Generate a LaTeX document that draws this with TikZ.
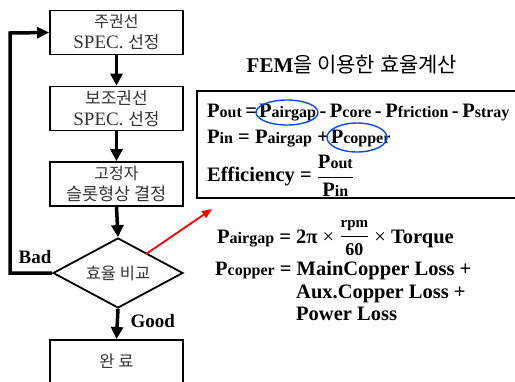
\documentclass[tikz,border=0pt]{standalone}
\usepackage{fontspec}
\setmainfont{Liberation Serif}
\newfontfamily\kr{Noto Sans CJK KR}
\usetikzlibrary{shapes.geometric,arrows.meta}
\newcommand{\Psub}[1]{P{\fontsize{16}{16}\selectfont #1}}
\newcommand{\eqfont}{\fontsize{20.5}{24}\selectfont\bfseries}
\newcommand{\gapsp}{\hspace{3.5pt}}
\begin{document}
\begin{tikzpicture}[x=1pt,y=-1pt,
  fbox/.style={draw,line width=1.8pt,minimum width=133pt,minimum height=44pt,inner sep=0pt,align=center,font=\fontsize{19}{21}\selectfont,text=black!80},
  flow/.style={line width=3.5pt,-{Triangle[length=12pt,width=12pt]}},
  eq/.style={font=\eqfont,anchor=base west,inner sep=0pt},
  ring/.style={draw=blue!70!cyan,line width=1.4pt,ellipse}]
\useasboundingbox (0,0) rectangle (515,381);
\node[fbox] (b1) at (116.5,32.5) {{\kr\fontsize{16}{21}\selectfont 주권선}\\SPEC. {\kr\fontsize{17}{21}\selectfont 선정}};
\node[fbox] (b2) at (116.5,108.5) {{\kr\fontsize{17}{21}\selectfont 보조권선}\\SPEC. {\kr\fontsize{17}{21}\selectfont 선정}};
\node[fbox] (b3) at (116.5,184) {{\kr\fontsize{16}{21}\selectfont 고정자}\\{\kr\fontsize{17.5}{21}\selectfont 슬롯형상 결정}};
\node[draw,line width=1.8pt,diamond,aspect=1.86,minimum width=130pt,minimum height=70pt,inner sep=0pt,font=\kr\fontsize{16.5}{21}\selectfont,text=black!80] (d) at (118,273) {효율 비교};
\node[draw,line width=1.8pt,minimum width=133pt,minimum height=60pt,inner sep=0pt,anchor=north] (b4) at (116.5,339) {};
\node[font=\kr\fontsize{16.5}{21}\selectfont,text=black!80] (t4) at (116.5,361) {완 료};
\draw[flow] (b1.south) -- (b2.north);
\draw[flow] (b2.south) -- (b3.north);
\draw[flow] (b3.south) -- (d.north);
\draw[flow] (d.south) -- (b4.north);
\coordinate (c1) at (10,273);
\coordinate (c2) at (10,33);
\draw[line width=3.5pt,-{Triangle[length=12pt,width=11pt]}] (d.west) -- (c1) -- (c2) -- (b1.west);
\node[font=\fontsize{19}{21}\selectfont\bfseries] (bad) at (35,257) {Bad};
\node[font=\fontsize{19}{21}\selectfont\bfseries,anchor=west] (good) at (127,321) {Good};
\coordinate (rs) at (146,254);
\coordinate (re) at (212,209);
\draw[red,line width=1.8pt,-{Triangle[length=10pt,width=8pt]}] (rs) -- (re);
% right side
\node[font=\fontsize{21}{24}\selectfont] (title) at (352,65) {\textbf{FEM}{\kr 을 이용한 효율계산}};
\draw[line width=1.8pt] (197,91) rectangle (520,198);
\node[eq] (l1) at (207,117) {\Psub{out}\gapsp=\hspace{2pt}\Psub{airgap}\gapsp-\gapsp\Psub{core}\gapsp-\gapsp\Psub{friction}\gapsp-\gapsp\Psub{stray}};
\node[eq] (l2) at (207,143) {\Psub{in} = \Psub{airgap} +\hspace{2pt}\Psub{copper}};
\node[eq] (l3) at (207,181) {Efficiency = $\displaystyle\vcenter{\hbox{$\displaystyle\frac{\mbox{\eqfont\Psub{out}}}{\mbox{\eqfont\Psub{in}}}$}}$};
\node[ring,minimum width=62pt,minimum height=25pt] (e1) at (287,112.5) {};
\node[ring,minimum width=60pt,minimum height=29pt] (e2) at (357,137.5) {};
\node[eq] (l4) at (217,243) {\Psub{airgap} = 2π {\mdseries ×} $\displaystyle\vcenter{\hbox{$\displaystyle\frac{\mbox{\fontsize{15}{17}\selectfont\bfseries rpm}}{\mbox{\fontsize{18}{20}\selectfont\bfseries 60}}$}}$ {\mdseries ×} Torque};
\node[eq] (l5) at (215,275) {\Psub{copper} = MainCopper Loss +};
\node[eq] (l6) at (296,298) {Aux.Copper Loss +};
\node[eq] (l7) at (296,320) {Power Loss};
\end{tikzpicture}
\end{document}
